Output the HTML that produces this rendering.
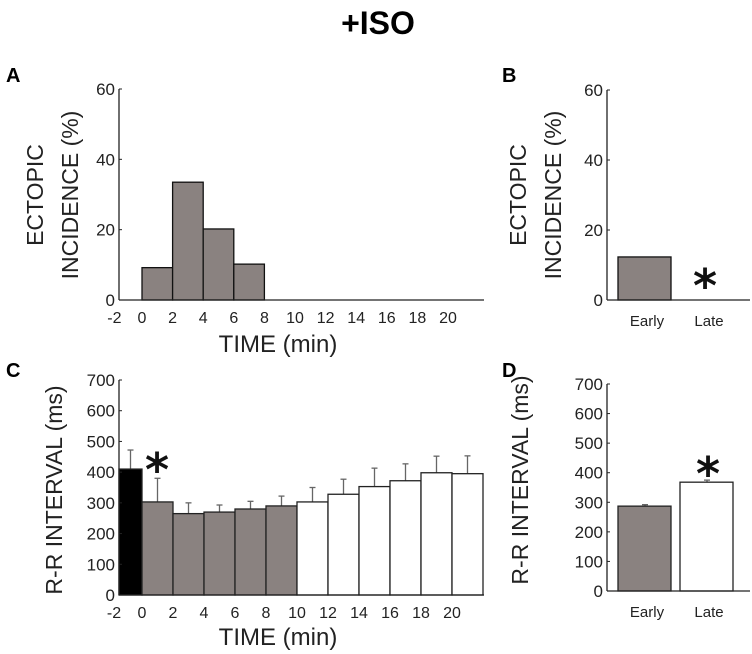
<!DOCTYPE html>
<html><head><meta charset="utf-8"><style>
body{margin:0;background:#fff;}
svg{display:block;font-family:"Liberation Sans",Arial,sans-serif;}
</style></head><body>
<svg id="fig" width="752" height="654" viewBox="0 0 752 654">
<text x="378" y="34" font-size="32" font-weight="bold" text-anchor="middle">+ISO</text>
<text x="6" y="82" font-size="20" font-weight="bold">A</text>
<text x="502" y="82" font-size="20" font-weight="bold">B</text>
<text x="6" y="377" font-size="20" font-weight="bold">C</text>
<text x="502" y="377" font-size="20" font-weight="bold">D</text>
<g id="pa"></g>
<g id="pb"></g>
<g id="pc"></g>
<g id="pd"></g>
</svg>
<script>
// Panel A data
const aBinStarts=[0,2,4,6];
const aValues=[9.2,33.5,20.2,10.2];
const aYTicks=[0,20,40,60];
const timeTicks=[-2,0,2,4,6,8,10,12,14,16,18,20];
// Panel B data
const bCategories=["Early","Late"];
const bValues=[12.3,0];
// Panel C data
const cBinStarts=[-2,0,2,4,6,8,10,12,14,16,18,20];
const cValues=[410,303,265,270,280,290,303,328,353,372,398,395];
const cErrors=[472,380,300,293,305,322,350,377,413,427,452,453];
const cYTicks=[0,100,200,300,400,500,600,700];
// Panel D data
const dCategories=["Early","Late"];
const dValues=[287,368];
const dErrors=[292,375];

const NS="http://www.w3.org/2000/svg";
function mk(p,tag,at,txt){const e=document.createElementNS(NS,tag);for(const k in at)e.setAttribute(k,at[k]);if(txt!==undefined)e.textContent=txt;p.appendChild(e);return e;}
const GRAY="#8a8280";

function timeAxis(g,y0,xs,axL,axR,titleY){
  const ax=mk(g,'line',{x1:axL,y1:y0,x2:axR,y2:y0,stroke:'#222','stroke-width':1.3});
  
  
  timeTicks.forEach(t=>{
    const tl=mk(g,'text',{x:xs(t)+(t===-2?3:0),y:y0+23,'font-size':16,'text-anchor':'middle',fill:'#222'},String(t));
    
    
  });
  const tt=mk(g,'text',{x:278,y:titleY,'font-size':24,'text-anchor':'middle',fill:'#222'},'TIME (min)');
  
  
}
function yAxis(g,x0,ys,ticks,topV){
  const ax=mk(g,'line',{x1:x0,y1:ys(0),x2:x0,y2:ys(topV),stroke:'#222','stroke-width':1.3});
  
  
  ticks.forEach(v=>{
    mk(g,'line',{x1:x0,y1:ys(v),x2:x0+3,y2:ys(v),stroke:'#222'});
    const tl=mk(g,'text',{x:x0-4,y:ys(v)+6,'font-size':17,'text-anchor':'end',fill:'#222'},String(v));
    
    
  });
}
function yTitle(g,x,cy,lines,dx){
  lines.forEach((s,i)=>{
    const t=mk(g,'text',{x:0,y:0,'font-size':23,'text-anchor':'middle',fill:'#222',transform:`translate(${x+i*dx},${cy}) rotate(-90)`},s);
    
    
  });
}
function star(g,x,y){
  const s=mk(g,'text',{x:x,y:y,'font-size':46,'text-anchor':'middle',fill:'#111','font-family':'DejaVu Sans','font-weight':'bold'},'*');
  
  
}

// Panel A
(function(){
  const g=document.getElementById('pa');
  const x0=119, xs=t=>142+15.3*t, ys=v=>300-v*(211/60);
  aBinStarts.forEach((t,i)=>{
    const r=mk(g,'rect',{x:xs(t),y:ys(aValues[i]),width:xs(t+2)-xs(t),height:ys(0)-ys(aValues[i]),fill:GRAY,stroke:'#111','stroke-width':1.3});
    
    
  });
  yAxis(g,x0,ys,aYTicks,60);
  timeAxis(g,300,xs,x0,484,352);
  yTitle(g,43,195,['ECTOPIC','INCIDENCE (%)'],35);
})();

// Panel B
(function(){
  const g=document.getElementById('pb');
  const x0=607, ys=v=>300-v*(210/60), xc=[645,707];
  bCategories.forEach((c,i)=>{
    if(bValues[i]>0){
      const r=mk(g,'rect',{x:xc[i]-27,y:ys(bValues[i]),width:53,height:ys(0)-ys(bValues[i]),fill:GRAY,stroke:'#111','stroke-width':1.3});
      
      
    }
    const t=mk(g,'text',{x:xc[i]+2,y:ys(0)+26,'font-size':15,'text-anchor':'middle',fill:'#222'},c);
    
    
  });
  yAxis(g,x0,ys,aYTicks,60);
  const ax=mk(g,'line',{x1:x0,y1:ys(0),x2:750,y2:ys(0),stroke:'#222','stroke-width':1.3});
  
  
  yTitle(g,526,195,['ECTOPIC','INCIDENCE (%)'],35);
  star(g,705,302);
})();

// Panel C
(function(){
  const g=document.getElementById('pc');
  const x0=119, xs=t=>142+15.5*t, ys=v=>595-v*(215/700);
  cBinStarts.forEach((t,i)=>{
    const xa=Math.max(x0,xs(t)), xb=xs(t+2), xm=(xs(t)+xb)/2+(t===-2?4:0);
    mk(g,'line',{x1:xm,y1:ys(cValues[i]),x2:xm,y2:ys(cErrors[i]),stroke:'#666','stroke-width':1.3});
    mk(g,'line',{x1:xm-3,y1:ys(cErrors[i]),x2:xm+3,y2:ys(cErrors[i]),stroke:'#666','stroke-width':1.3});
    const fill=t<0?'#000':(t<10?GRAY:'#fff');
    const r=mk(g,'rect',{x:xa,y:ys(cValues[i]),width:xb-xa,height:ys(0)-ys(cValues[i]),fill:fill,stroke:'#222','stroke-width':1.3});
    
    
  });
  yAxis(g,x0,ys,cYTicks,700);
  timeAxis(g,595,xs,x0,484,645);
  yTitle(g,62,490,['R-R INTERVAL (ms)'],0);
  star(g,157,486);
})();

// Panel D
(function(){
  const g=document.getElementById('pd');
  const x0=607, ys=v=>591-v*(207/700), xc=[645,707];
  dCategories.forEach((c,i)=>{
    mk(g,'line',{x1:xc[i],y1:ys(dValues[i]),x2:xc[i],y2:ys(dErrors[i]),stroke:'#666','stroke-width':1.3});
    mk(g,'line',{x1:xc[i]-3,y1:ys(dErrors[i]),x2:xc[i]+3,y2:ys(dErrors[i]),stroke:'#666','stroke-width':1.3});
    const r=mk(g,'rect',{x:xc[i]-27,y:ys(dValues[i]),width:53,height:ys(0)-ys(dValues[i]),fill:i===0?GRAY:'#fff',stroke:'#222','stroke-width':1.3});
    
    
    const t=mk(g,'text',{x:xc[i]+2,y:ys(0)+26,'font-size':15,'text-anchor':'middle',fill:'#222'},c);
    
    
  });
  yAxis(g,x0,ys,cYTicks,700);
  const ax=mk(g,'line',{x1:x0,y1:ys(0),x2:750,y2:ys(0),stroke:'#222','stroke-width':1.3});
  
  
  yTitle(g,528,480,['R-R INTERVAL (ms)'],0);
  star(g,708,490);
})();
</script>
</body></html>
